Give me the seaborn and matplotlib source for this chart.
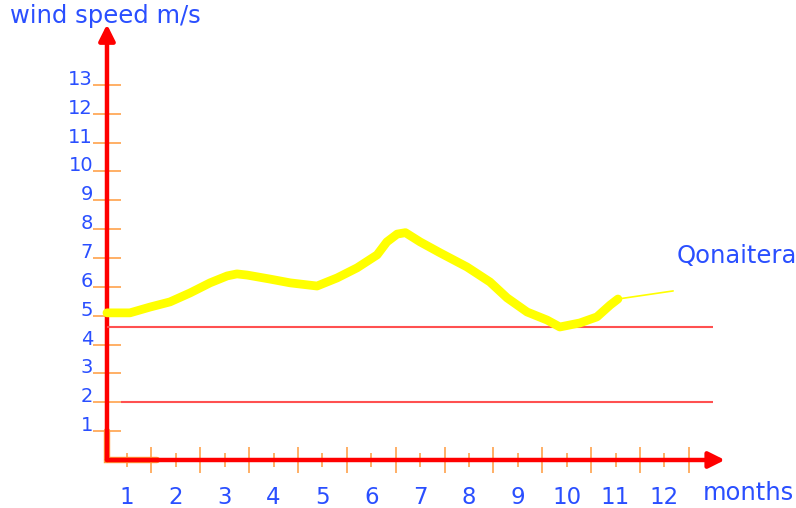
import matplotlib
matplotlib.use("Agg")
import matplotlib.pyplot as plt
import seaborn as sns

# wind speed curve (month position, m/s)
curve_month = [0.59, 1.06, 1.47, 1.88, 2.29, 2.70, 3.05, 3.25, 3.46, 3.93, 4.34, 4.89,
               5.30, 5.71, 6.12, 6.32, 6.53, 6.70, 7.00, 7.41, 7.96, 8.43, 8.78, 9.19,
               9.60, 9.86, 10.27, 10.62, 10.89, 11.05]
curve_speed = [5.10, 5.10, 5.30, 5.48, 5.79, 6.14, 6.38, 6.45, 6.41, 6.27, 6.14, 6.03,
               6.31, 6.66, 7.11, 7.56, 7.83, 7.88, 7.56, 7.18, 6.69, 6.17, 5.62, 5.13,
               4.85, 4.61, 4.75, 4.96, 5.37, 5.58]
# thin pointer line to the label
tail_month = [11.05, 12.18]
tail_speed = [5.58, 5.86]

# red reference lines
ref_levels = [4.61, 2.0]
ref_start = [0.59, 0.88]
ref_end = [12.99, 12.99]

month_ticks = list(range(1, 13))
half_ticks = [m + 0.5 for m in range(1, 13)]
speed_ticks = list(range(1, 14))

sns.set_style("white")
plt.rcParams["font.family"] = ["DejaVu Sans"]

blue = "#2a4fff"
orange = "#ff9a3c"
red = "#ff0000"
origin = 0.59

fig = plt.figure(figsize=(7.96, 5.08), dpi=100)
ax = fig.add_axes([0, 0, 1, 1])
ax.set_xlim(-1.600, 14.695)
ax.set_ylim(-1.664, 15.944)
ax.patch.set_visible(False)

for side in ["top", "right", "left", "bottom"]:
    ax.spines[side].set_visible(False)
ax.spines["left"].set_position(("data", origin))
ax.spines["bottom"].set_position(("data", 0))

# ticks
ax.set_xticks(month_ticks)
ax.set_xticks(half_ticks, minor=True)
ax.set_yticks(speed_ticks)
ax.tick_params(axis="x", which="major", bottom=True, direction="inout", length=10,
               width=1.1, color=orange, labelcolor=blue, labelsize=16.5, pad=13.7)
ax.tick_params(axis="x", which="minor", bottom=True, direction="inout", length=18.7,
               width=1.1, color=orange)
ax.tick_params(axis="y", left=True, direction="inout", length=20, width=1.1,
               color=orange, labelcolor=blue, labelsize=14, pad=0)
for t in ax.yaxis.get_major_ticks():
    t.label1.set_verticalalignment("baseline")
ax.grid(False)

# axis arrows
arrow = dict(arrowstyle="-|>", color=red, lw=3.2, mutation_scale=24, shrinkA=0, shrinkB=0)
ax.annotate("", xy=(13.24, 0), xytext=(origin, 0), arrowprops=arrow, zorder=2)
ax.annotate("", xy=(origin, 15.1), xytext=(origin, 0), arrowprops=arrow, zorder=2)

# little orange corner at the origin
ax.plot([origin, origin, 1.61], [1, 0, 0], color=orange, lw=4.6, zorder=1.5,
        solid_joinstyle="miter")

# reference lines
ax.hlines(ref_levels, ref_start, ref_end, color="#ff5050", lw=1.5, zorder=2.2)

# curve
sns.lineplot(x=curve_month, y=curve_speed, color="#ffff00", linewidth=6.3, ax=ax,
             zorder=4, solid_capstyle="round", solid_joinstyle="round")
sns.lineplot(x=tail_month, y=tail_speed, color="#ffff00", linewidth=1.2, ax=ax, zorder=4)
ax.set_xlabel("")
ax.set_ylabel("")

ax.text(10 / 796, 1 - 23 / 508, "wind speed m/s", transform=ax.transAxes, color=blue,
        fontsize=17.5, ha="left", va="baseline")
ax.text(703 / 796, 1 - 500 / 508, "months", transform=ax.transAxes, color=blue,
        fontsize=17.5, ha="left", va="baseline")
ax.text(677 / 796, 1 - 263 / 508, "Qonaitera", transform=ax.transAxes, color=blue,
        fontsize=17.5, ha="left", va="baseline")

fig.savefig("out.png", dpi=100)
